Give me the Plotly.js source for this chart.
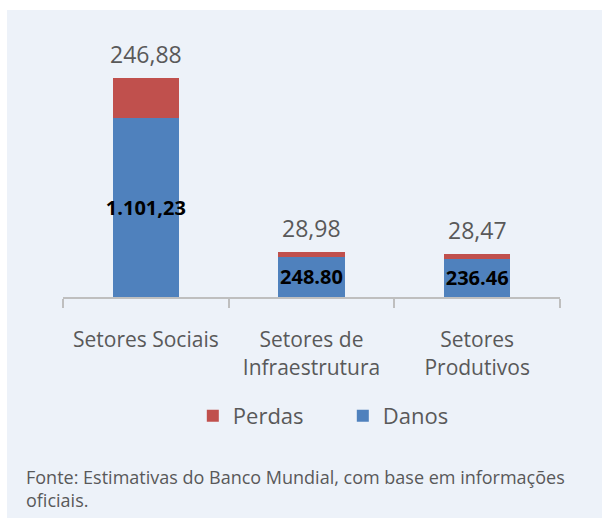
<!DOCTYPE html>
<html>
<head>
<meta charset="utf-8">
<script src="https://cdn.plot.ly/plotly-3.0.1.min.js"></script>
<style>
html, body { margin: 0; padding: 0; background: #ffffff; width: 602px; height: 518px; overflow: hidden; }
#chart { position: absolute; left: 7px; top: 10px; width: 595px; height: 508px; }
</style>
</head>
<body>
<div id="chart"></div>
<script>
const categories = ["Setores Sociais", "Setores de Infraestrutura", "Setores Produtivos"];
const categoryLabels = ["Setores Sociais", "Setores de<br>Infraestrutura", "Setores<br>Produtivos"];
const danos = [1101.23, 248.80, 236.46];
const perdas = [246.88, 28.98, 28.47];
const danosLabels = ["1.101,23", "248.80", "236.46"];
const perdasLabels = ["246,88", "28,98", "28,47"];
const footnote = "Fonte: Estimativas do Banco Mundial, com base em informações<br>oficiais.";

const FONT = "Open Sans, Noto Sans, sans-serif";

const traces = [
  {
    type: "bar", name: "Danos", x: categories, y: danos,
    marker: { color: "#4f81bd" },
    text: danosLabels, textposition: "inside", insidetextanchor: "middle",
    constraintext: "none", textangle: 0,
    textfont: { family: FONT, size: 20, color: "#000000", weight: "bold" },
    hoverinfo: "skip", width: 0.4
  },
  {
    type: "bar", name: "Perdas", x: categories, y: perdas,
    marker: { color: "#c0504d" },
    textposition: "none",
    hoverinfo: "skip", width: 0.4
  }
];

const annotations = categories.map((c, i) => ({
  x: c, y: danos[i] + perdas[i], xref: "x", yref: "y",
  text: perdasLabels[i], showarrow: false, yanchor: "bottom", yshift: 6,
  font: { family: FONT, size: 23, color: "#595959" }
}));
annotations.push({
  xref: "paper", yref: "paper", x: -0.078, y: -0.645, xanchor: "left", yanchor: "top",
  align: "left", showarrow: false, text: footnote,
  font: { family: FONT, size: 18, color: "#595959" }
});

const layout = {
  width: 595, height: 508,
  margin: { l: 56, r: 42, t: 30, b: 221 },
  paper_bgcolor: "#edf2f9", plot_bgcolor: "#edf2f9",
  barmode: "stack",
  showlegend: true,
  legend: {
    orientation: "h", x: 0.563, xanchor: "center", y: -0.463, yanchor: "middle",
    traceorder: "reversed", entrywidth: 105,
    font: { family: FONT, size: 22, color: "#595959" },
    bgcolor: "rgba(0,0,0,0)"
  },
  xaxis: {
    type: "category", tickvals: categories, ticktext: categoryLabels,
    showline: true, linecolor: "#bfbfbf", linewidth: 2,
    ticks: "outside", tickson: "boundaries", ticklen: 9, tickwidth: 2, tickcolor: "#bfbfbf",
    ticklabelstandoff: 23,
    showgrid: false, zeroline: false, fixedrange: true,
    tickfont: { family: FONT, size: 21, color: "#595959" }
  },
  yaxis: { visible: false, range: [0, 1580], showgrid: false, zeroline: false, fixedrange: true },
  annotations: annotations,
  font: { family: FONT }
};

Plotly.newPlot("chart", traces, layout, { displayModeBar: false, staticPlot: true });
</script>
</body>
</html>
